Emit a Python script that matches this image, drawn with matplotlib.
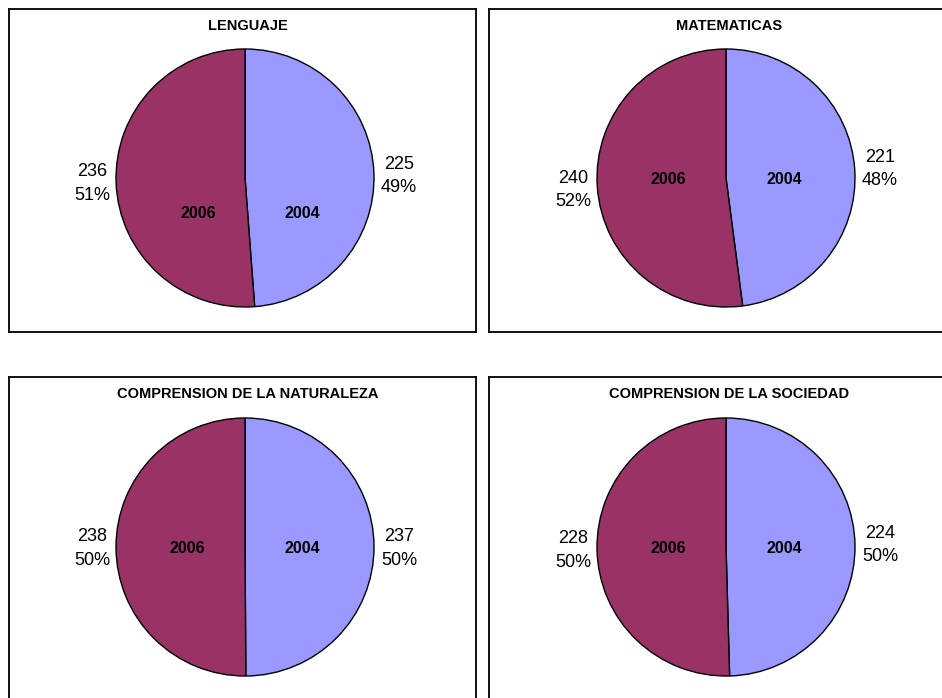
import matplotlib
matplotlib.use("Agg")
import matplotlib.pyplot as plt

plt.rcParams['font.family'] = ['Liberation Sans', 'DejaVu Sans']

# datos
materias = ["LENGUAJE", "MATEMATICAS",
            "COMPRENSION DE LA NATURALEZA", "COMPRENSION DE LA SOCIEDAD"]
anios = ["2004", "2006"]
puntaje_2004 = [225, 221, 237, 224]
puntaje_2006 = [236, 240, 238, 228]
colores = ["#9999FF", "#993366"]

# layout (pixeles)
W, H = 942, 698
R = 129  # radio del pie en px
cajas = [(9, 9, 476, 332), (489, 9, 960, 332),
         (9, 377, 476, 701), (489, 377, 960, 701)]
centros = [(245, 178), (726, 178), (245, 547), (726, 547)]
# desplazamientos de etiquetas externas (der, izq) e internas (2004, 2006), en px
ext_der = [(154, -2), (154, -9), (154, 1.5), (154, -2)]
ext_izq = [(-153, 5.5), (-153, 12), (-153, 1.5), (-153, 3.5)]
int_2004 = [(57, 36), (58, 1), (57, 1), (58, 1)]
int_2006 = [(-47, 36), (-58, 1), (-58, 1), (-58, 1)]

fig = plt.figure(figsize=(W / 100, H / 100), dpi=100)

for i, materia in enumerate(materias):
    x0, y0, x1, y1 = cajas[i]
    cx, cy = centros[i]
    ax = fig.add_axes([x0 / W, 1 - y1 / H, (x1 - x0) / W, (y1 - y0) / H])
    valores = [puntaje_2004[i], puntaje_2006[i]]
    ax.pie(valores, colors=colores, startangle=90, counterclock=False, radius=1,
           wedgeprops=dict(edgecolor="black", linewidth=1.0))
    ax.set_aspect("auto")
    ax.set_xlim((x0 - cx) / R, (x1 - cx) / R)
    ax.set_ylim((cy - y1) / R, (cy - y0) / R)
    ax.set_frame_on(True)
    for s in ax.spines.values():
        s.set_color("black")
        s.set_linewidth(1.3)

    ax.text(3 / R, (cy - (y0 + 17)) / R, materia, ha="center", va="center",
            fontsize=10.5, fontweight="bold")

    total = sum(valores)
    pcts = [round(v / total * 100) for v in valores]
    dx, dy = ext_der[i]
    ax.text(dx / R, -dy / R, f"{valores[0]}\n{pcts[0]}%", ha="center", va="center",
            fontsize=13, linespacing=1.5)
    dx, dy = ext_izq[i]
    ax.text(dx / R, -dy / R, f"{valores[1]}\n{pcts[1]}%", ha="center", va="center",
            fontsize=13, linespacing=1.5)
    dx, dy = int_2004[i]
    ax.text(dx / R, -dy / R, anios[0], ha="center", va="center",
            fontsize=11.5, fontweight="bold")
    dx, dy = int_2006[i]
    ax.text(dx / R, -dy / R, anios[1], ha="center", va="center",
            fontsize=11.5, fontweight="bold")

fig.savefig("out.png", dpi=100)
